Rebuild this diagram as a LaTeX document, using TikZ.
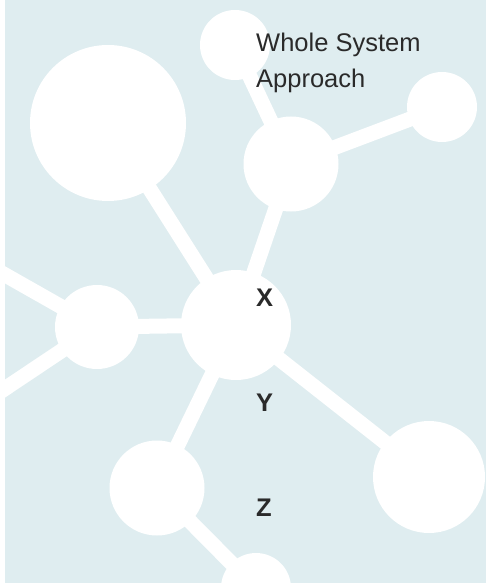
\documentclass[tikz,border=0pt]{standalone}
\usepackage{fontspec}
\setmainfont{Liberation Sans}
\definecolor{bgblue}{HTML}{DFEDF0}
\definecolor{txtgray}{HTML}{2A2A2A}
\tikzset{
  ball/.style={circle, fill=white, inner sep=0pt, minimum size=#1},
  bond/.style={white, line width=15pt},
  lbl/.style={anchor=base west, inner sep=0pt, text=txtgray, font=\fontsize{25.5}{36}\selectfont},
  blbl/.style={anchor=base west, inner sep=0pt, text=txtgray, font=\fontsize{25.5}{30}\selectfont\bfseries}
}
\begin{document}
\begin{tikzpicture}[x=1pt, y=-1pt]
\useasboundingbox (0,0) rectangle (486,585);
\fill[bgblue] (5,0) rectangle (486,583);
\begin{scope}
\clip (5,0) rectangle (486,583);
% coordinates of balls
\coordinate (big) at (108,123);
\coordinate (top) at (235,45);
\coordinate (um) at (291,164);
\coordinate (tr) at (442,107);
\coordinate (c) at (236,325);
\coordinate (lm) at (97,327);
\coordinate (ll) at (157,488);
\coordinate (lr) at (429,477);
\coordinate (bot) at (256,588);
\coordinate (offA) at (-30,255);
\coordinate (offB) at (-30,412);
% bonds
\draw[bond] (big) -- (c);
\draw[bond] (top) -- (um);
\draw[bond] (um) -- (tr);
\draw[bond] (um) -- (c);
\draw[bond] (c) -- (lm);
\draw[bond] (lm) -- (offA);
\draw[bond] (lm) -- (offB);
\draw[bond] (c) -- (ll);
\draw[bond] (c) -- (lr);
\draw[bond] (ll) -- (bot);
% balls
\node[ball=156pt] (nbig) at (big) {};
\node[ball=70pt] (ntop) at (top) {};
\node[ball=95pt] (num) at (um) {};
\node[ball=70pt] (ntr) at (tr) {};
\node[ball=110pt] (nc) at (c) {};
\node[ball=84pt] (nlm) at (lm) {};
\node[ball=95pt] (nll) at (ll) {};
\node[ball=112pt] (nlr) at (lr) {};
\node[ball=70pt] (nbot) at (bot) {};
\end{scope}
% labels
\node[lbl] (t1) at (256,52) {Whole System};
\node[lbl] (t2) at (256,88) {Approach};
\node[blbl] (x) at (256,306) {X};
\node[blbl] (y) at (256,411) {Y};
\node[blbl] (z) at (256,516) {Z};
\end{tikzpicture}
\end{document}
